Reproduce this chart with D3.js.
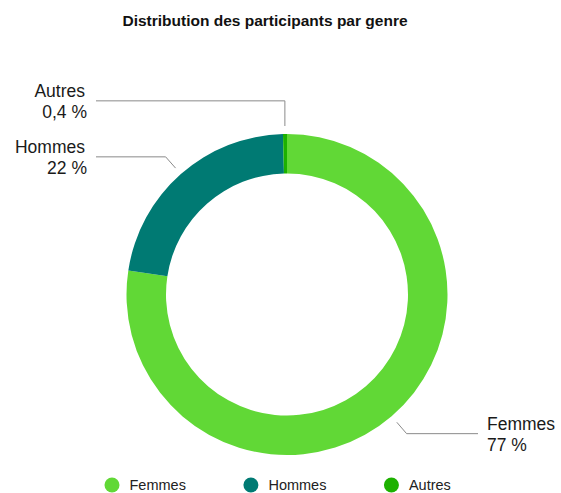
<!DOCTYPE html>
<html>
<head>
<meta charset="utf-8">
<script src="https://cdn.jsdelivr.net/npm/d3@7"></script>
<style>
  body { margin: 0; background: #fff; }
  svg { display: block; font-family: "Liberation Sans", Arial, Helvetica, sans-serif; }
</style>
</head>
<body>
<script>
//categories, values and their label texts
var categories = ["Femmes", "Hommes", "Autres"];
var values = [77.4, 22.2, 0.4];
var valueLabels = ["77 %", "22 %", "0,4 %"];
var colors = ["#61D836", "#007A73", "#1DB100"];

window.onload = function(){

    var w = 561, h = 493;
    var cx = 287, cy = 294.5;
    var outerR = 160.5, innerR = 121;

    var svg = d3.select("body")
        .append("svg")
        .attr("width", w)
        .attr("height", h);

    //title
    svg.append("text")
        .attr("x", 265)
        .attr("y", 25.5)
        .attr("text-anchor", "middle")
        .style("font-weight", "bold")
        .style("font-size", "15.5px")
        .style("fill", "#111")
        .text("Distribution des participants par genre");

    var data = categories.map(function(c, i){
        return {name: c, value: values[i], label: valueLabels[i], color: colors[i]};
    });

    //pie starts at 12 o'clock and goes clockwise in data order
    var pie = d3.pie()
        .sort(null)
        .value(function(d){ return d.value; });

    var arcs = pie(data);

    var arc = d3.arc()
        .innerRadius(innerR)
        .outerRadius(outerR);

    var g = svg.append("g")
        .attr("transform", "translate(" + cx + "," + cy + ")");

    g.selectAll(".slice")
        .data(arcs)
        .enter()
        .append("path")
        .attr("class", "slice")
        .attr("d", arc)
        .style("fill", function(d){ return d.data.color; });

    //leader line geometry
    var startR = 168.5, elbowR = 183.5, endX = 191;
    var points = arcs.map(function(d){
        var a = (d.startAngle + d.endAngle) / 2;
        var s = [Math.sin(a) * startR, -Math.cos(a) * startR];
        var e = [Math.sin(a) * elbowR, -Math.cos(a) * elbowR];
        return {d: d, a: a, start: s, elbow: e, side: Math.sin(a) >= 0 ? 1 : -1};
    });

    //keep left-side labels apart (push upper ones up)
    var minGap = 56;
    var left = points.filter(function(p){ return p.side < 0; })
        .sort(function(a, b){ return b.elbow[1] - a.elbow[1]; });
    for (var i = 1; i < left.length; i++) {
        var prev = left[i - 1].elbow[1];
        if (prev - left[i].elbow[1] < minGap) {
            left[i].elbow = [left[i].start[0], prev - minGap];
        }
    }

    var line = d3.line();

    g.selectAll(".leader")
        .data(points)
        .enter()
        .append("path")
        .attr("class", "leader")
        .attr("d", function(p){
            return line([p.start, p.elbow, [p.side * endX, p.elbow[1]]]);
        })
        .style("fill", "none")
        .style("stroke", "#8a8a8a")
        .style("stroke-width", 1);

    var labels = g.selectAll(".labels")
        .data(points)
        .enter()
        .append("text")
        .attr("class", "labels")
        .attr("text-anchor", function(p){ return p.side > 0 ? "start" : "end"; })
        .style("font-size", "17.5px")
        .style("fill", "#1a1a1a");

    labels.append("tspan")
        .attr("x", function(p){ return p.side > 0 ? endX + 9 : -endX - 11; })
        .attr("y", function(p){ return p.elbow[1] - 3.5; })
        .text(function(p){ return p.d.data.name; });

    labels.append("tspan")
        .attr("x", function(p){ return p.side > 0 ? endX + 9 : -endX - 9; })
        .attr("dy", 21)
        .text(function(p){ return p.d.data.label; });

    //legend
    var legend = svg.append("g")
        .attr("class", "legend");

    var lx = 112, ly = 485;
    data.forEach(function(d){
        var item = legend.append("g")
            .attr("transform", "translate(" + lx + "," + ly + ")");
        item.append("circle")
            .attr("r", 7.5)
            .style("fill", d.color);
        var t = item.append("text")
            .attr("x", 17.5)
            .attr("y", 5)
            .style("font-size", "14.5px")
            .style("fill", "#222")
            .text(d.name);
        lx += 17.5 + t.node().getComputedTextLength() + 65;
    });
};
</script>
</body>
</html>
